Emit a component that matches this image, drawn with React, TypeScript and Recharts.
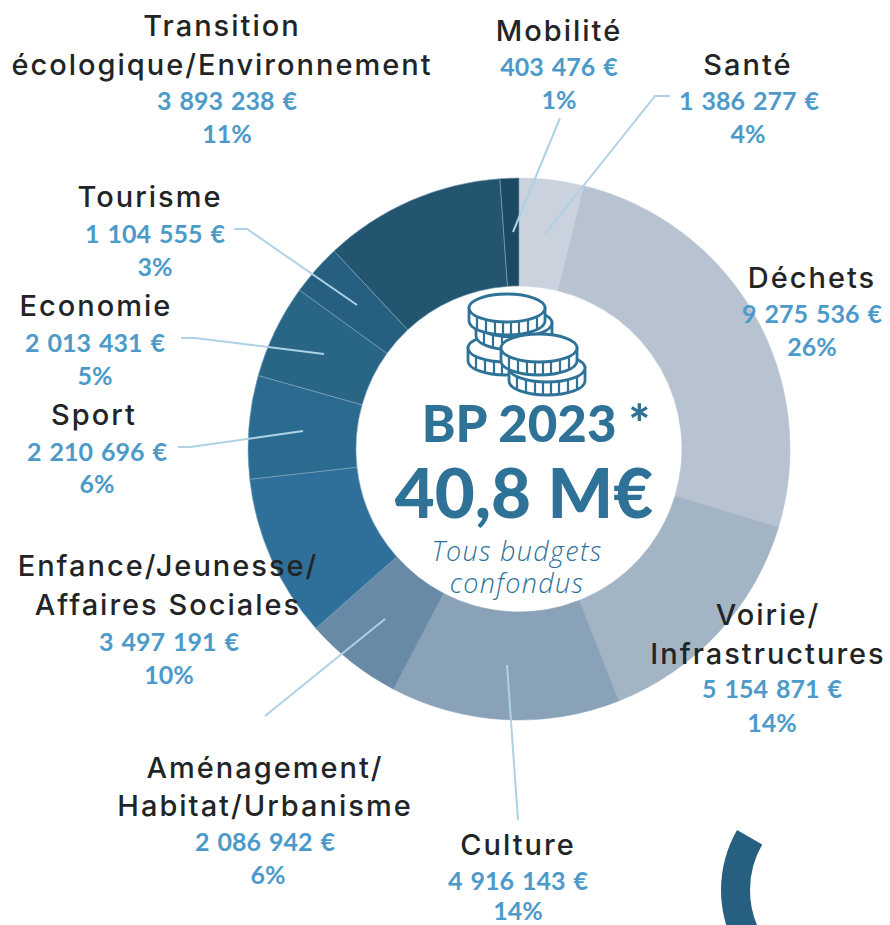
// App.tsx
// Anneau du budget primitif 2023 par politique publique
import { PieChart, Pie, Cell } from "recharts";

const categories = [
  "Santé",
  "Déchets",
  "Voirie/Infrastructures",
  "Culture",
  "Aménagement/Habitat/Urbanisme",
  "Enfance/Jeunesse/Affaires Sociales",
  "Sport",
  "Economie",
  "Tourisme",
  "Transition écologique/Environnement",
  "Mobilité",
];
const amounts = [1386277, 9275536, 5154871, 4916143, 2086942, 3497191, 2210696, 2013431, 1104555, 3893238, 403476];
const percents = [4, 26, 14, 14, 6, 10, 6, 5, 3, 11, 1];
const sliceColors = [
  "#c9d2dd", "#b7c3d1", "#a3b4c5", "#8aa2b7", "#688aa7", "#2e7099",
  "#2c6b90", "#296686", "#265f80", "#235470", "#1c4a63",
];
const decorArc = [1];

const data = categories.map((name, i) => ({ name, value: amounts[i] }));

// lignes de titre, centre horizontal et lignes de base de chaque étiquette
const labelLayout = [
  { title: ["Santé"], titleX: 748, titleY: [75], valueX: 749, valueY: 110, pctX: 748, pctY: 143 },
  { title: ["Déchets"], titleX: 812, titleY: [288], valueX: 812, valueY: 323, pctX: 812, pctY: 356 },
  { title: ["Voirie/", "Infrastructures"], titleX: 768, titleY: [625, 664], valueX: 772, valueY: 698, pctX: 772, pctY: 732 },
  { title: ["Culture"], titleX: 518, titleY: [855], valueX: 518, valueY: 890, pctX: 518, pctY: 920 },
  { title: ["Aménagement/", "Habitat/Urbanisme"], titleX: 265, titleY: [778, 816], valueX: 265, valueY: 851, pctX: 268, pctY: 884 },
  { title: ["Enfance/Jeunesse/", "Affaires Sociales"], titleX: 168, titleY: [576, 615], valueX: 169, valueY: 651, pctX: 169, pctY: 684 },
  { title: ["Sport"], titleX: 94, titleY: [425], valueX: 97, valueY: 461, pctX: 97, pctY: 493 },
  { title: ["Economie"], titleX: 96, titleY: [316], valueX: 95, valueY: 352, pctX: 95, pctY: 385 },
  { title: ["Tourisme"], titleX: 150, titleY: [207], valueX: 155, valueY: 243, pctX: 155, pctY: 276 },
  { title: ["Transition", "écologique/Environnement"], titleX: 222, titleY: [36, 75], valueX: 227, valueY: 110, pctX: 227, pctY: 143 },
  { title: ["Mobilité"], titleX: 559, titleY: [41], valueX: 559, valueY: 76, pctX: 559, pctY: 109 },
];

const leaderLines = [
  "560,118 513,232",
  "670,96 655,96 545,234",
  "234,229 247,229 357,305",
  "181,338 195,338 324,354",
  "178,447 190,447 303,431",
  "265,716 385,619",
  "518,820 507,665",
];

const TITLE_FONT = "Inter, sans-serif";
const VALUE_FONT = "Lato, sans-serif";
const BLUE = "#2f7298";

const formatEuro = (v: number) => v.toLocaleString("en-US").replace(/,/g, " ") + " €";

function Coin({ cx, cy }: { cx: number; cy: number }) {
  const ticks = [-30, -21, -12, -4, 4, 12, 21, 30];
  const rx = 38;
  const ry = 14;
  const h = 13;
  return (
    <g fill="#fff" stroke={BLUE} strokeWidth={2.8}>
      <path d={`M${cx - rx},${cy} v${h} a${rx},${ry} 0 0 0 ${2 * rx},0 v${-h} z`} />
      {ticks.map((t) => {
        const y = cy + ry * Math.sqrt(1 - (t * t) / (rx * rx));
        return <line key={t} x1={cx + t} x2={cx + t} y1={y} y2={y + h} strokeWidth={2.2} />;
      })}
      <ellipse cx={cx} cy={cy} rx={rx} ry={ry} />
    </g>
  );
}

function Labels() {
  return (
    <g>
      {leaderLines.map((pts) => (
        <polyline key={pts} points={pts} fill="none" stroke="#aed2e5" strokeWidth={2} />
      ))}
      {labelLayout.map((l, i) => (
        <g key={categories[i]} textAnchor="middle">
          {l.title.map((line, j) => (
            <text key={line} x={l.titleX} y={l.titleY[j]} fontFamily={TITLE_FONT} fontSize={29} fontWeight={500} letterSpacing={2} fill="#222426">
              {line}
            </text>
          ))}
          <text x={l.valueX} y={l.valueY} fontFamily={VALUE_FONT} fontSize={25} fontWeight={700} fill="#4c9ac9" wordSpacing={2}>
            {formatEuro(amounts[i])}
          </text>
          <text x={l.pctX} y={l.pctY} fontFamily={VALUE_FONT} fontSize={25} fontWeight={700} fill="#4c9ac9">
            {percents[i]}%
          </text>
        </g>
      ))}
    </g>
  );
}

function CenterBlock() {
  return (
    <g textAnchor="middle" fill={BLUE}>
      <Coin cx={506} cy={348} />
      <Coin cx={514} cy={323} />
      <Coin cx={507} cy={308} />
      <Coin cx={547} cy={368} />
      <Coin cx={539} cy={348} />
      <text x={536} y={442} fontFamily={VALUE_FONT} fontSize={51} fontWeight={900}>BP 2023 *</text>
      <text x={524} y={518} fontFamily={VALUE_FONT} fontSize={69} fontWeight={900}>40,8 M€</text>
      <text x={517} y={561} fontFamily="'Open Sans', sans-serif" fontSize={27} fontWeight={300} fontStyle="italic" letterSpacing={1.3}>Tous budgets</text>
      <text x={517} y={593} fontFamily="'Open Sans', sans-serif" fontSize={27} fontWeight={300} fontStyle="italic" letterSpacing={1.3}>confondus</text>
    </g>
  );
}

export default function App() {
  return (
    <div style={{ position: "absolute", left: 0, top: 0, width: 890, height: 925, overflow: "hidden" }}>
      <PieChart width={890} height={925} margin={{ top: 0, right: 0, bottom: 0, left: 0 }}>
        <Pie
          data={data}
          dataKey="value"
          cx={519}
          cy={449}
          innerRadius={163}
          outerRadius={271}
          startAngle={90}
          endAngle={-270}
          isAnimationActive={false}
          label={false}
          labelLine={false}
        >
          {data.map((d, i) => (
            <Cell key={d.name} fill={sliceColors[i]} stroke={i > 4 ? "#7fa6bd" : sliceColors[i]} strokeWidth={0.6} />
          ))}
        </Pie>
        <Pie
          data={decorArc.map((value) => ({ value }))}
          dataKey="value"
          cx={841}
          cy={890}
          innerRadius={91}
          outerRadius={120}
          startAngle={150}
          endAngle={210}
          stroke="none"
          fill="#265f80"
          isAnimationActive={false}
          label={false}
          labelLine={false}
        />
      </PieChart>
      {/* les Pie passent devant les enfants svg du graphique, donc calque séparé */}
      <svg width={890} height={925} style={{ position: "absolute", left: 0, top: 0 }}>
        <Labels />
        <CenterBlock />
      </svg>
    </div>
  );
}
